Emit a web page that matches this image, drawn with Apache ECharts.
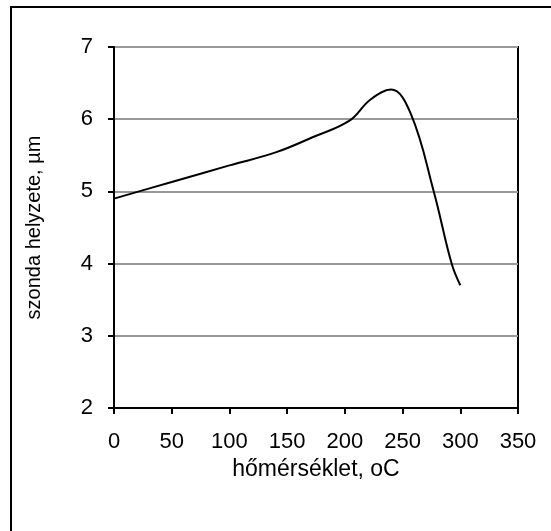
<!DOCTYPE html>
<html>
<head>
<meta charset="utf-8">
<script src="https://cdn.jsdelivr.net/npm/echarts@6/dist/echarts.min.js"></script>
<style>
  html, body { margin: 0; padding: 0; background: #fff; }
  #chart { width: 551px; height: 531px; }
</style>
</head>
<body>
<div id="chart"></div>
<script>
  // hőmérséklet (oC) és szonda helyzete (µm)
  var temps = [0, 50, 100, 140, 172, 204, 222, 240, 257, 277, 292.5, 300]
  var positions = [4.90, 5.13, 5.36, 5.54, 5.75, 5.98, 6.27, 6.41, 6.08, 5.00, 4.00, 3.70]
  var xName = 'hőmérséklet, oC'
  var yName = 'szonda helyzete, µm'

  var lineData = []
  for (var i = 0; i < temps.length; i++) {
    lineData.push([temps[i], positions[i]])
  }

  var chart = echarts.init(document.getElementById('chart'))
  chart.setOption({
    animation: false,
    textStyle: { fontFamily: 'Liberation Sans, Arial, sans-serif' },
    graphic: [{
      type: 'rect',
      shape: { x: 11, y: 7, width: 700, height: 700 },
      style: { fill: 'none', stroke: '#000', lineWidth: 2 },
      silent: true
    }],
    grid: {
      left: 114,
      top: 47,
      right: 33,
      bottom: 123,
      show: true,
      borderColor: '#000',
      borderWidth: 2
    },
    xAxis: {
      type: 'value',
      min: 0,
      max: 350,
      interval: 50,
      name: xName,
      nameLocation: 'middle',
      nameGap: 50,
      nameTextStyle: { color: '#000', fontSize: 23 },
      axisLine: { show: true, lineStyle: { color: '#000', width: 2 } },
      axisTick: { show: true, length: 6, lineStyle: { color: '#000', width: 2 } },
      axisLabel: { color: '#000', fontSize: 22, margin: 23 },
      splitLine: { show: false }
    },
    yAxis: {
      type: 'value',
      min: 2,
      max: 7,
      interval: 1,
      name: yName,
      nameLocation: 'middle',
      nameGap: 70,
      nameTextStyle: { color: '#000', fontSize: 20 },
      axisLine: { show: true, lineStyle: { color: '#000', width: 2 } },
      axisTick: { show: true, length: 6, lineStyle: { color: '#000', width: 2 } },
      axisLabel: { color: '#000', fontSize: 22, margin: 21 },
      splitLine: { show: true, lineStyle: { color: '#999', width: 2 } }
    },
    series: [{
      type: 'line',
      data: lineData,
      smooth: 0.4,
      showSymbol: false,
      lineStyle: { color: '#000', width: 2 }
    }]
  })
</script>
</body>
</html>
